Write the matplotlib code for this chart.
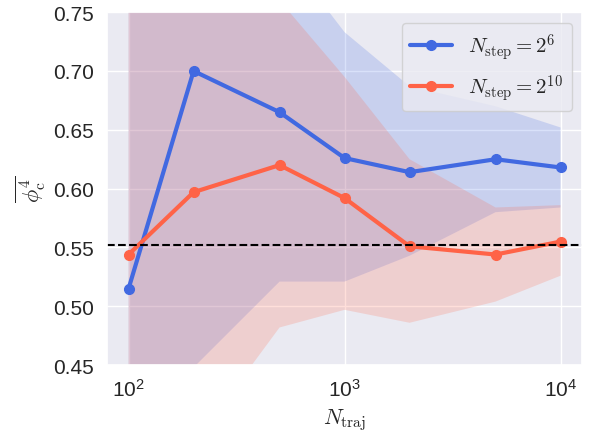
import numpy as np
import matplotlib
matplotlib.use('Agg')
import matplotlib.pyplot as plt
import seaborn as sns

# Values
n_traj = [100, 200, 500, 1000, 2000, 5000, 10000]

phi_step6 = [0.515, 0.700, 0.665, 0.626, 0.614, 0.625, 0.618]
low_step6 = [0.30, 0.448, 0.521, 0.521, 0.543, 0.580, 0.584]
high_step6 = [0.95, 0.90, 0.805, 0.733, 0.687, 0.670, 0.652]

phi_step10 = [0.544, 0.597, 0.620, 0.592, 0.551, 0.544, 0.555]
low_step10 = [0.28, 0.383, 0.482, 0.497, 0.486, 0.504, 0.526]
high_step10 = [0.85, 0.80, 0.76, 0.695, 0.625, 0.584, 0.586]

reference_value = 0.552

sns.set_theme(style='darkgrid')
plt.rcParams['font.family'] = ['Liberation Sans', 'DejaVu Sans']
plt.rcParams['mathtext.fontset'] = 'cm'

fig = plt.figure(figsize=(5.91, 4.39), dpi=100)
ax = fig.add_axes([0.181, 0.166, 0.804, 0.804])

blue = 'royalblue'
red = 'tomato'

ax.fill_between(n_traj, low_step6, high_step6, color=blue, alpha=0.2, linewidth=0)
ax.fill_between(n_traj, low_step10, high_step10, color=red, alpha=0.2, linewidth=0)

ax.plot(n_traj, phi_step6, 'o-', color=blue, lw=3, ms=7, label=r'$N_{\rm step} = 2^6$')
ax.plot(n_traj, phi_step10, 'o-', color=red, lw=3, ms=7, label=r'$N_{\rm step} = 2^{10}$')

ax.axhline(reference_value, color='black', ls='--', lw=1.5)

ax.set_xscale('log')
ax.set_ylim(0.45, 0.75)
ax.set_yticks(np.arange(0.45, 0.751, 0.05))
ax.tick_params(labelsize=15)

ax.set_xlabel(r'$N_{\rm traj}$', fontsize=16)
ax.set_ylabel(r'$\overline{\phi_{\rm c}^4}$', fontsize=16)

ax.legend(loc='upper right', fontsize=15)

fig.savefig('out.png', dpi=100)
